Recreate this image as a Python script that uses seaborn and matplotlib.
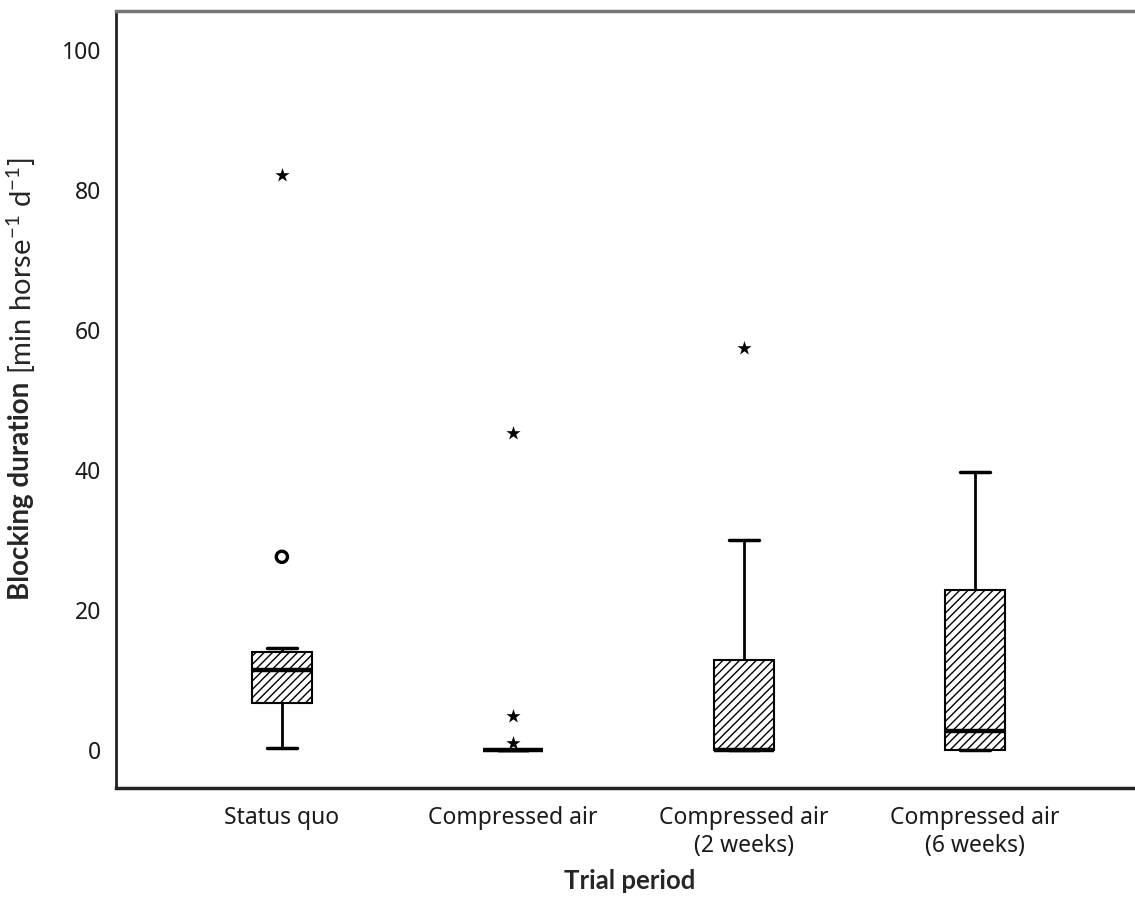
import numpy as np
import pandas as pd
import matplotlib
matplotlib.use("Agg")
import matplotlib.pyplot as plt
import seaborn as sns

# Blocking duration per horse and day
periods = ["Status quo", "Compressed air", "Compressed air\n(2 weeks)", "Compressed air\n(6 weeks)"]
status_quo = [0.3, 4.5, 6.2, 8.0, 10.8, 12.0, 12.2, 14.6, 27.6, 82.1]
compressed_air = [0, 0, 0, 0, 0, 0, 0, 0, 0, 0, 1.0, 4.9, 45.3]
compressed_2w = [0, 0, 0, 0, 0, 0, 0, 3.5, 8.2, 12.9, 21.4, 30.0, 57.5]
compressed_6w = [0, 0, 0, 0, 0, 1.2, 2.7, 6.5, 15.0, 22.9, 28.4, 33.0, 39.7]
y_ticks = [0, 20, 40, 60, 80, 100]

groups = [status_quo, compressed_air, compressed_2w, compressed_6w]
df = pd.DataFrame({
    "period": np.repeat(periods, [len(g) for g in groups]),
    "value": np.concatenate(groups),
})

sns.set_style("white")
plt.rcParams["font.family"] = ["Noto Sans", "DejaVu Sans"]
plt.rcParams["hatch.linewidth"] = 1.0
plt.rcParams["mathtext.fontset"] = "custom"
plt.rcParams["mathtext.rm"] = "Lato"

fig = plt.figure(figsize=(11.35, 9.06), dpi=100)
ax = fig.add_axes([0.102, 0.1302, 0.898, 0.8582])

sns.boxplot(
    data=df, x="period", y="value", order=periods,
    width=0.26, whis=1.5, showfliers=False,
    color="white", linecolor="black", linewidth=1.5,
    medianprops={"linewidth": 3.2},
    whiskerprops={"linewidth": 2},
    capprops={"linewidth": 2.5},
    ax=ax,
)
for p in ax.patches:
    p.set_hatch("////")

# SPSS style outliers: circles beyond 1.5 IQR, stars beyond 3 IQR
for i, vals in enumerate(groups):
    v = np.array(vals)
    q1, q3 = np.percentile(v, [25, 75])
    iqr = q3 - q1
    mild = v[(v > q3 + 1.5 * iqr) & (v <= q3 + 3 * iqr)]
    extreme = v[v > q3 + 3 * iqr]
    ax.scatter(np.full(len(mild), i), mild, marker="o", s=65,
               facecolors="none", edgecolors="black", linewidths=2.4, zorder=5)
    ax.scatter(np.full(len(extreme), i), extreme, marker="*", s=115,
               color="black", linewidths=0, zorder=5)

ax.set_xlim(-0.719, 3.693)
ax.set_ylim(-5.43, 105.64)
ax.set_yticks(y_ticks)
ax.set_xlabel("")
ax.set_ylabel("")
ax.tick_params(axis="both", direction="out", width=1.6, color="black",
               labelcolor="#1a1a1a")
ax.tick_params(axis="y", length=9.5, pad=1, labelsize=16.5)
ax.tick_params(axis="x", length=8, pad=5, labelsize=16.5)

ax.spines["right"].set_visible(False)
ax.spines["left"].set_linewidth(2)
ax.spines["bottom"].set_linewidth(2.5)
ax.spines["top"].set_linewidth(2.5)
ax.spines["top"].set_color("#777777")
for s in ["left", "bottom"]:
    ax.spines[s].set_color("#222222")

fig.text(630 / 1135, 1 - 881 / 906, "Trial period", ha="center", va="center",
         fontsize=18.5, fontweight="bold", family="Lato")
fig.text(21 / 1135, 1 - 600 / 906, "Blocking duration", rotation=90,
         rotation_mode="anchor", ha="left", va="center",
         fontsize=20, fontweight="bold", family="Lato")
fig.text(21 / 1135, 1 - 374 / 906, "[min horse$^{-1}$ d$^{-1}$]", rotation=90,
         rotation_mode="anchor", ha="left", va="center",
         fontsize=21, family="Lato")

fig.savefig("out.png", dpi=100)
